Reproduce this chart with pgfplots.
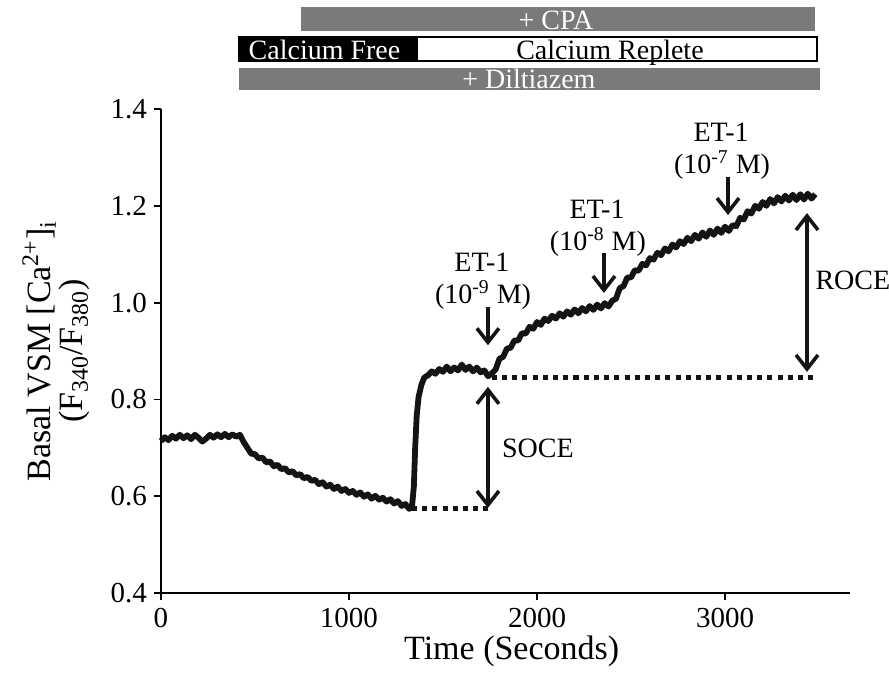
\documentclass[border=0pt]{standalone}
\usepackage{fontspec}
\setmainfont{Liberation Serif}
\usepackage{pgfplots}
\pgfplotsset{compat=1.18}
\usetikzlibrary{arrows.meta}
\definecolor{bargray}{RGB}{122,122,122}
\definecolor{tracek}{RGB}{20,20,20}
\begin{document}
\begin{tikzpicture}
\begin{axis}[
  scale only axis, width=344.5pt, height=242pt,
  xmin=0, xmax=3665, ymin=0.4, ymax=1.4,
  axis x line*=bottom, axis y line*=left,
  axis line style={line width=0.9pt,-},
  xtick={0,1000,2000,3000}, ytick={0.4,0.6,0.8,1.0,1.2,1.4},
  yticklabel style={/pgf/number format/fixed, /pgf/number format/fixed zerofill, /pgf/number format/precision=1},
  xticklabel style={yshift=-0.5pt, /pgf/number format/fixed, /pgf/number format/1000 sep={}},
  tick align=outside, major tick length=3.5pt,
  tick style={line width=0.9pt, black},
  /pgf/number format/assume math mode=true,
  tick label style={font=\fontsize{14.5}{16}\selectfont},
  label style={font=\fontsize{17}{16}\selectfont},
  xlabel={Time (Seconds)},
  xlabel style={at={(axis description cs:0.509,-0.137)}, anchor=base, inner sep=0pt},
  ylabel={Basal VSM [Ca\textsuperscript{2+}]\textsubscript{i}\\(F\textsubscript{340}/F\textsubscript{380})},
  ylabel style={at={(axis description cs:-0.152,0.5)}, anchor=center, align=center},
  clip=false,
]
\coordinate (bbA) at (axis cs:-856,0.2223);
\coordinate (bbB) at (axis cs:3872,1.6252);
% trace
\addplot[tracek, line width=2.9pt, line join=round] coordinates {
(0,0.714) (20,0.722) (40,0.716) (60,0.725) (80,0.719) (100,0.727) (120,0.720) (140,0.726)
(160,0.718) (180,0.727) (200,0.721) (220,0.713) (240,0.719) (260,0.727) (280,0.721) (300,0.728)
(320,0.722) (340,0.729) (360,0.722) (380,0.728) (400,0.723) (420,0.727) (440,0.712) (460,0.700)
(480,0.688) (500,0.687) (520,0.678) (540,0.680) (560,0.670) (580,0.672) (600,0.662) (620,0.665)
(640,0.656) (660,0.658) (680,0.649) (700,0.652) (720,0.643) (740,0.646) (760,0.637) (780,0.640)
(800,0.632) (820,0.634) (840,0.625) (860,0.629) (880,0.620) (900,0.624) (920,0.615) (940,0.620)
(960,0.611) (980,0.615) (1000,0.607) (1020,0.611) (1040,0.603) (1060,0.608) (1080,0.599) (1100,0.604)
(1120,0.595) (1140,0.601) (1160,0.593) (1180,0.597) (1200,0.589) (1220,0.594) (1240,0.585) (1260,0.590)
(1280,0.580) (1300,0.584) (1320,0.574) (1335,0.578) (1345,0.620) (1352,0.700) (1360,0.765) (1370,0.805)
(1385,0.830) (1400,0.845) (1420,0.850) (1440,0.858) (1460,0.853) (1480,0.863) (1500,0.857) (1520,0.868)
(1540,0.858) (1560,0.866) (1580,0.860) (1600,0.872) (1620,0.861) (1640,0.868) (1660,0.858) (1680,0.866)
(1700,0.856) (1720,0.860) (1740,0.848) (1760,0.854) (1780,0.862) (1800,0.884) (1820,0.888) (1840,0.905)
(1860,0.907) (1880,0.922) (1900,0.922) (1920,0.937) (1940,0.936) (1960,0.950) (1980,0.946) (2000,0.960)
(2020,0.954) (2040,0.967) (2060,0.962) (2080,0.973) (2100,0.967) (2120,0.978) (2140,0.971) (2160,0.982)
(2180,0.975) (2200,0.986) (2220,0.978) (2240,0.989) (2260,0.982) (2280,0.993) (2300,0.985) (2320,0.996)
(2340,0.988) (2360,0.999) (2380,0.992) (2400,1.004) (2420,1.008) (2440,1.030) (2460,1.034) (2480,1.052)
(2500,1.052) (2520,1.067) (2540,1.066) (2560,1.080) (2580,1.077) (2600,1.092) (2620,1.089) (2640,1.103)
(2660,1.098) (2680,1.112) (2700,1.106) (2720,1.120) (2740,1.114) (2760,1.127) (2780,1.121) (2800,1.134)
(2820,1.127) (2840,1.140) (2860,1.132) (2880,1.145) (2900,1.136) (2920,1.149) (2940,1.140) (2960,1.153)
(2980,1.144) (3000,1.157) (3020,1.148) (3040,1.160) (3060,1.158) (3080,1.175) (3100,1.172) (3120,1.189)
(3140,1.184) (3160,1.200) (3180,1.194) (3200,1.208) (3220,1.200) (3240,1.214) (3260,1.205) (3280,1.218)
(3300,1.209) (3320,1.221) (3340,1.211) (3360,1.223) (3380,1.212) (3400,1.224) (3420,1.213) (3440,1.225)
(3460,1.215) (3480,1.224)
};
% dotted baselines
\addplot[tracek, line width=2.5pt, dash pattern=on 2.5pt off 2.6pt] coordinates {(1335,0.574) (1760,0.574)};
\addplot[tracek, line width=2.5pt, dash pattern=on 2.5pt off 2.6pt] coordinates {(1760,0.846) (3470,0.846)};
% arrows
\tikzset{barb/.tip={Straight Barb[length=7pt,width=11pt]}}
\draw[tracek, line width=1.8pt, -barb] (axis cs:1739,0.991) -- (axis cs:1739,0.912);
\draw[tracek, line width=1.8pt, -barb] (axis cs:2356,1.102) -- (axis cs:2356,1.020);
\draw[tracek, line width=1.8pt, -barb] (axis cs:3016,1.260) -- (axis cs:3016,1.181);
\draw[tracek, line width=1.8pt, barb-barb] (axis cs:1739,0.826) -- (axis cs:1739,0.576);
\draw[tracek, line width=1.8pt, barb-barb] (axis cs:3436,1.185) -- (axis cs:3436,0.857);
% annotation text
\begin{scope}[every node/.style={font=\fontsize{14}{15}\selectfont, inner sep=0pt}]
\node at (axis cs:1707,1.084) {ET-1};
\node at (axis cs:1713,1.016) {(10\textsuperscript{-9} M)};
\node at (axis cs:2319,1.193) {ET-1};
\node at (axis cs:2324,1.125) {(10\textsuperscript{-8} M)};
\node at (axis cs:2979,1.352) {ET-1};
\node at (axis cs:2984,1.284) {(10\textsuperscript{-7} M)};
\node at (axis cs:2005,0.700) {SOCE};
\node[anchor=west] at (axis cs:3479,1.047) {ROCE};
\end{scope}
% top bars
\fill[bargray] (axis cs:745,1.5612) rectangle (axis cs:3479,1.6107);
\fill[black] (axis cs:415,1.4992) rectangle (axis cs:1367,1.5488);
\fill[white] (axis cs:1367,1.4992) rectangle (axis cs:3489,1.5488);
\draw[black, line width=1pt] (axis cs:415,1.4992) rectangle (axis cs:3489,1.5488);
\fill[bargray] (axis cs:415,1.4393) rectangle (axis cs:3505,1.4847);
\begin{scope}[every node/.style={font=\fontsize{14}{15}\selectfont, inner sep=0pt, anchor=base}]
\node[white] at (axis cs:2101,1.5642) {+ CPA};
\node[white] at (axis cs:870,1.5022) {Calcium Free};
\node[black] at (axis cs:2388,1.5022) {Calcium Replete};
\node[white] at (axis cs:1957,1.4423) {+ Diltiazem};
\end{scope}
\end{axis}
\pgfresetboundingbox
\path[use as bounding box] (bbA) rectangle (bbB);
\end{tikzpicture}
\end{document}
